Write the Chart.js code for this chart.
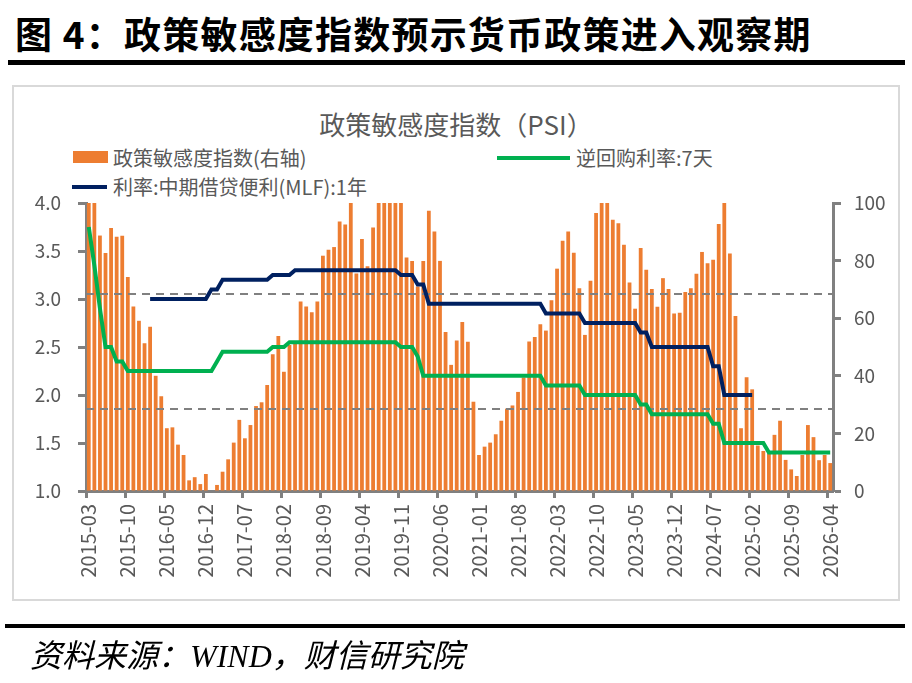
<!DOCTYPE html>
<html>
<head>
<meta charset="utf-8">
<script src="https://cdn.jsdelivr.net/npm/chart.js@4.4.1/dist/chart.umd.min.js"></script>
<style>
html,body{margin:0;padding:0;background:#fff;width:912px;height:683px;overflow:hidden;}
#heading{position:absolute;left:15px;top:15px;font-weight:bold;font-size:37px;letter-spacing:1.2px;font-family:'Noto Sans CJK SC',sans-serif;color:#000;white-space:nowrap;line-height:1;}
.rule{position:absolute;background:#000;}
#box{position:absolute;left:12px;top:85px;width:888px;height:516px;border:2px solid #d9d9d9;box-sizing:border-box;}
#ctitle{position:absolute;left:0;width:912px;top:111px;text-align:center;font-size:26px;font-family:'Noto Sans CJK SC',sans-serif;color:#595959;line-height:1;}
.lg{position:absolute;font-size:20px;font-family:'Noto Sans CJK SC',sans-serif;color:#595959;white-space:nowrap;line-height:1;}
.mk{position:absolute;}
#source{position:absolute;left:30px;top:640px;font-size:32px;font-style:italic;font-family:'Liberation Serif','Noto Sans CJK SC',serif;color:#000;white-space:nowrap;line-height:1;}
canvas{position:absolute;left:0;top:0;}
</style>
</head>
<body>
<div id="box"></div>
<div id="heading">图 4：政策敏感度指数预示货币政策进入观察期</div>
<div class="rule" style="left:8px;top:60px;width:897px;height:5px;"></div>
<div id="ctitle">政策敏感度指数（PSI）</div>
<div class="mk" style="left:73px;top:151px;width:35px;height:12px;background:#ED7D31;"></div>
<div class="lg" style="left:113px;top:148px;">政策敏感度指数(右轴)</div>
<div class="mk" style="left:497px;top:156px;width:73px;height:4px;background:#00B050;"></div>
<div class="lg" style="left:576px;top:148px;">逆回购利率:7天</div>
<div class="mk" style="left:72px;top:185px;width:35px;height:4px;background:#002060;"></div>
<div class="lg" style="left:113px;top:177px;">利率:中期借贷便利(MLF):1年</div>
<canvas id="c" width="912" height="683"></canvas>
<div class="rule" style="left:5px;top:624px;width:900px;height:4px;"></div>
<div id="source">资料来源：WIND，财信研究院</div>
<script>
// Monthly categories 2015-03 .. 2026-04
const categories = [];
(function(){ let y = 2015, m = 3; while (categories.length < 134) { categories.push(y + '-' + String(m).padStart(2,'0')); m++; if (m > 12) { m = 1; y++; } } })();

// Policy sensitivity index (right axis, 0-100)
const psi = [
 100,100,88.7,82.6,91.3,88.3,88.6,74.3,64.1,59.1,
 51.3,57.0,40.0,32.9,21.8,22.1,16.1,12.5,3.7,4.8,
 2.4,5.9,0,2.1,6.7,11.0,16.8,24.7,18.3,22.9,
 29.5,30.8,36.8,47.5,53.8,41.4,50.7,51.3,65.8,64.1,
 62.1,65.8,81.7,83.8,84.7,93.6,92.5,100,75.5,87.5,
 78.0,91.5,100,100,100,100,100,81.1,79.9,71.0,
 79.9,97.3,90.1,79.9,55.2,43.8,52.3,58.7,51.8,31.0,
 12.5,15.4,16.8,19.7,24.4,28.6,29.7,34.4,39.4,51.9,
 53.5,57.9,55.7,66.2,77.2,86.9,90.1,82.7,70.4,54.2,
 73.0,96.5,100,100,94.2,93.0,85.5,72.4,63.3,84.4,
 76.8,70.1,64.0,73.9,70.1,61.6,61.9,69.1,70.4,75.4,
 83.0,79.1,80.3,92.7,100,82.5,60.8,21.8,39.5,35.3,
 15.8,13.9,13.1,19.5,24.4,10.8,7.5,5.2,12.5,22.9,
 18.7,10.7,12.5,9.7
];

// 7-day reverse repo rate (left axis, %)
const repo7d = [
 3.75,3.35,2.90,2.50,2.50,2.35,2.35,2.25,2.25,2.25,
 2.25,2.25,2.25,2.25,2.25,2.25,2.25,2.25,2.25,2.25,
 2.25,2.25,2.25,2.35,2.45,2.45,2.45,2.45,2.45,2.45,
 2.45,2.45,2.45,2.50,2.50,2.50,2.55,2.55,2.55,2.55,
 2.55,2.55,2.55,2.55,2.55,2.55,2.55,2.55,2.55,2.55,
 2.55,2.55,2.55,2.55,2.55,2.55,2.50,2.50,2.50,2.40,
 2.20,2.20,2.20,2.20,2.20,2.20,2.20,2.20,2.20,2.20,
 2.20,2.20,2.20,2.20,2.20,2.20,2.20,2.20,2.20,2.20,
 2.20,2.20,2.10,2.10,2.10,2.10,2.10,2.10,2.10,2.00,
 2.00,2.00,2.00,2.00,2.00,2.00,2.00,2.00,2.00,1.90,
 1.90,1.80,1.80,1.80,1.80,1.80,1.80,1.80,1.80,1.80,
 1.80,1.80,1.70,1.70,1.50,1.50,1.50,1.50,1.50,1.50,
 1.50,1.50,1.40,1.40,1.40,1.40,1.40,1.40,1.40,1.40,
 1.40,1.40,1.40,1.40
];

// MLF 1-year rate (left axis, %)
const mlf1y = [
 null,null,null,null,null,null,null,null,null,null,
 null,3.00,3.00,3.00,3.00,3.00,3.00,3.00,3.00,3.00,
 3.00,3.00,3.10,3.10,3.20,3.20,3.20,3.20,3.20,3.20,
 3.20,3.20,3.20,3.25,3.25,3.25,3.25,3.30,3.30,3.30,
 3.30,3.30,3.30,3.30,3.30,3.30,3.30,3.30,3.30,3.30,
 3.30,3.30,3.30,3.30,3.30,3.30,3.25,3.25,3.25,3.15,
 3.15,2.95,2.95,2.95,2.95,2.95,2.95,2.95,2.95,2.95,
 2.95,2.95,2.95,2.95,2.95,2.95,2.95,2.95,2.95,2.95,
 2.95,2.95,2.85,2.85,2.85,2.85,2.85,2.85,2.85,2.75,
 2.75,2.75,2.75,2.75,2.75,2.75,2.75,2.75,2.75,2.65,
 2.65,2.50,2.50,2.50,2.50,2.50,2.50,2.50,2.50,2.50,
 2.50,2.50,2.30,2.30,2.00,2.00,2.00,2.00,2.00,2.00,
 null,null,null,null,null,null,null,null,null,null,
 null,null,null,null
];

// Reference levels on the right axis (dashed)
const refLines = [68.5, 28.6];

const leftTicks = [1.0, 1.5, 2.0, 2.5, 3.0, 3.5, 4.0];
const rightTicks = [0, 20, 40, 60, 80, 100];
const labelEvery = 7;

const FONT = "'Noto Sans CJK SC', sans-serif";
const AXIS = '#808080';
const TXT = '#595959';

const refPlugin = {
  id: 'refLines',
  afterDatasetDraw(chart, args) {
    if (args.index !== 0) return;
    const { ctx, chartArea: a, scales } = chart;
    ctx.save();
    ctx.strokeStyle = '#808080';
    ctx.lineWidth = 2;
    ctx.setLineDash([8, 6]);
    refLines.forEach(v => {
      const y = Math.round(scales.y2.getPixelForValue(v));
      ctx.beginPath(); ctx.moveTo(a.left, y); ctx.lineTo(a.right, y); ctx.stroke();
    });
    ctx.restore();
  }
};

new Chart(document.getElementById('c'), {
  data: {
    labels: categories,
    datasets: [
      { type: 'bar', label: '政策敏感度指数(右轴)', data: psi, yAxisID: 'y2', backgroundColor: '#ED7D31',
        barPercentage: 0.68, categoryPercentage: 1.0, order: 3 },
      { type: 'line', label: '逆回购利率:7天', data: repo7d, yAxisID: 'y', borderColor: '#00B050',
        borderWidth: 4, pointRadius: 0, tension: 0, order: 2 },
      { type: 'line', label: '利率:中期借贷便利(MLF):1年', data: mlf1y, yAxisID: 'y', borderColor: '#002060',
        borderWidth: 4, pointRadius: 0, tension: 0, spanGaps: false, order: 1 }
    ]
  },
  options: {
    responsive: false,
    animation: false,
    layout: { padding: { top: 203, left: 0, right: 0, bottom: 0 } },
    plugins: { legend: { display: false }, title: { display: false }, tooltip: { enabled: false } },
    scales: {
      x: {
        type: 'category', offset: true,
        grid: { offset: true, drawOnChartArea: false, drawTicks: true, tickLength: 7, tickWidth: 3,
                tickColor: ctx => (ctx.index % labelEvery === 0 && ctx.index < categories.length) ? AXIS : 'rgba(0,0,0,0)' },
        border: { display: true, color: AXIS, width: 3 },
        ticks: { autoSkip: false, maxRotation: 90, minRotation: 90, padding: 6, color: TXT,
                 font: { size: 20, family: FONT },
                 callback: (v, i) => (i % labelEvery === 0) ? categories[i] : '' },
        afterFit: s => { s.height = 192; }
      },
      y: {
        position: 'left', min: leftTicks[0], max: leftTicks[leftTicks.length - 1],
        afterBuildTicks: s => { s.ticks = leftTicks.map(v => ({ value: v })); },
        grid: { drawOnChartArea: false, drawTicks: true, tickLength: 8, tickWidth: 3, tickColor: AXIS },
        border: { display: true, color: AXIS, width: 3 },
        ticks: { padding: 17, color: TXT, font: { size: 19, family: FONT }, callback: v => Number(v).toFixed(1) },
        afterFit: s => { s.width = 86; }
      },
      y2: {
        position: 'right', min: rightTicks[0], max: rightTicks[rightTicks.length - 1],
        afterBuildTicks: s => { s.ticks = rightTicks.map(v => ({ value: v })); },
        grid: { drawOnChartArea: false, drawTicks: true, tickLength: 8, tickWidth: 3, tickColor: AXIS },
        border: { display: true, color: AXIS, width: 3 },
        ticks: { padding: 13, color: TXT, font: { size: 19, family: FONT }, callback: v => String(v) },
        afterFit: s => { s.width = 79; }
      }
    }
  },
  plugins: [refPlugin]
});
</script>
</body>
</html>
